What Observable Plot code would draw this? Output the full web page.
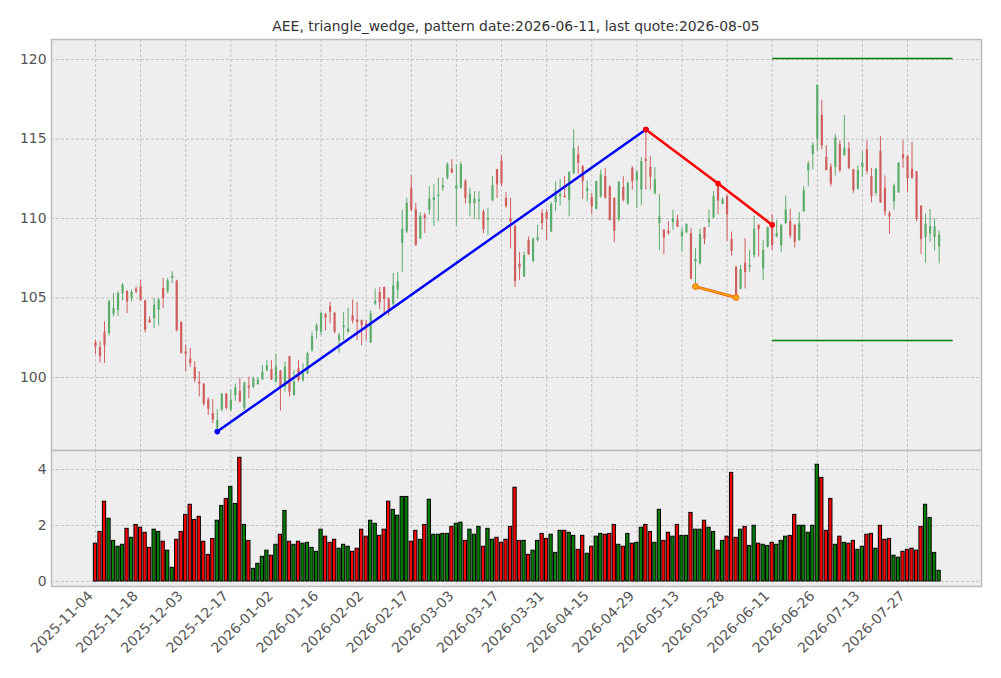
<!DOCTYPE html>
<html>
<head>
<meta charset="utf-8">
<script src="https://cdn.jsdelivr.net/npm/d3@7"></script>
<script src="https://cdn.jsdelivr.net/npm/@observablehq/plot@0.6"></script>
<style>
  html, body { margin: 0; padding: 0; background: #fff; }
  #wrap { position: relative; width: 1001px; height: 678px; overflow: hidden; font-family: "DejaVu Sans", sans-serif; }
  #title { position: absolute; left: 51px; width: 930px; top: 18px; text-align: center; font-size: 13.9px; color: #333; line-height: 16px; }
  #p1 { position: absolute; left: 0; top: 0; }
  #p2 { position: absolute; left: 0; top: 449px; }
</style>
</head>
<body>
<div id="wrap">
  <div id="title">AEE, triangle_wedge, pattern date:2026-06-11, last quote:2026-08-05</div>
  <div id="p1"></div>
  <div id="p2"></div>
</div>
<script>
// ---- data (one entry per trading day, index 0 = 2025-11-04, last = 2026-08-05) ----
const openP = [102.18,101.89,102.85,102.77,103.98,104.23,105.28,105.43,104.97,105.56,
105.70,104.82,103.61,103.71,104.23,105.60,105.39,106.23,106.06,103.46,
101.61,101.15,100.61,99.70,99.58,98.60,97.74,96.80,97.95,98.95,
97.95,98.85,99.12,98.03,99.46,99.39,99.56,99.85,100.44,100.50,
99.71,100.40,99.39,101.32,98.87,100.54,99.81,100.23,101.69,102.91,
102.85,103.95,104.46,104.04,102.32,103.12,102.85,103.89,103.62,103.58,
103.37,102.18,104.62,105.34,105.66,104.92,104.60,105.49,108.45,109.15,
111.91,110.57,108.73,110.21,110.53,111.12,111.38,111.91,112.54,113.11,
111.84,111.91,112.33,110.91,110.95,111.06,110.42,109.90,111.12,113.07,
113.60,111.27,110.00,109.51,107.14,106.33,108.63,107.30,108.63,110.32,
110.38,109.16,111.01,111.37,111.41,111.16,112.85,114.01,113.27,111.69,
111.31,110.59,111.37,112.64,112.00,111.27,109.90,111.94,110.90,113.16,
112.40,111.79,113.73,113.21,111.58,109.68,109.26,109.20,109.75,109.89,
108.84,109.11,109.05,107.25,107.15,109.41,109.75,110.04,112.15,110.89,
111.37,108.69,106.93,105.56,107.19,106.93,107.67,109.58,106.83,108.20,
109.68,108.84,108.30,109.68,109.83,109.58,108.63,110.42,113.00,114.02,
115.00,116.48,113.86,113.23,113.23,114.64,113.95,114.37,113.06,111.84,
113.23,114.32,112.64,111.58,114.22,111.90,110.30,111.05,111.62,114.01,
113.90,113.10,112.95,110.78,108.80,109.01,108.80,108.21];
const highP = [102.35,102.25,103.50,104.86,105.28,105.39,105.91,105.43,105.49,105.70,
106.12,104.86,103.82,104.97,104.97,106.23,106.23,106.65,106.12,103.50,
102.03,101.82,100.99,100.36,99.62,98.74,98.62,97.99,98.99,98.99,
99.20,99.60,99.96,99.71,100.02,100.02,100.02,100.75,101.07,101.07,
101.49,100.44,100.96,101.35,100.44,101.07,100.86,101.59,102.85,103.37,
104.10,104.04,104.73,104.10,102.78,104.10,104.37,104.87,104.73,103.62,
103.58,104.20,105.56,105.66,105.70,105.02,106.55,106.61,110.53,111.27,
112.69,110.95,110.36,110.32,112.01,112.12,112.54,112.54,113.50,113.71,
113.39,113.54,112.44,111.91,111.69,111.69,110.53,110.64,112.65,113.10,
113.96,111.63,111.27,109.58,107.88,107.88,108.84,108.78,109.58,110.57,
110.53,111.01,112.32,112.47,112.64,112.95,115.59,114.54,113.33,112.36,
111.58,112.36,113.06,113.16,112.05,111.30,112.32,112.64,112.32,113.27,
113.00,113.84,115.60,113.90,113.21,111.52,109.30,109.79,110.53,110.21,
109.41,109.68,109.37,108.10,109.32,109.45,110.53,111.69,112.22,111.31,
111.48,109.15,107.00,107.04,108.73,108.00,110.15,109.60,108.63,109.47,
110.25,109.89,109.60,111.42,110.59,109.60,110.38,112.01,113.59,114.76,
118.40,117.43,114.58,113.44,115.27,114.89,116.48,114.79,113.10,113.31,
114.22,114.89,113.16,113.16,115.17,112.68,110.46,112.17,113.52,114.92,
113.95,114.79,112.95,110.78,110.27,110.57,110.00,109.22];
const lowP = [101.45,100.92,100.88,102.60,103.82,103.82,104.82,104.03,104.76,105.28,
104.80,102.81,103.40,103.08,103.23,104.34,105.28,105.91,102.87,101.47,
100.36,100.63,99.66,98.78,98.20,97.63,97.11,96.60,97.84,97.95,
97.84,98.50,98.41,97.93,98.66,99.29,99.50,99.81,100.33,99.81,
99.65,97.89,99.08,98.77,98.82,99.71,99.71,100.18,101.59,102.43,
102.64,102.95,103.37,102.74,101.53,102.32,102.78,103.37,102.32,101.99,
102.32,102.15,104.52,104.28,103.92,103.86,104.39,104.92,106.61,109.05,
110.42,108.24,108.67,109.05,110.21,109.51,109.79,111.69,112.44,112.82,
109.51,111.84,110.91,110.11,109.94,109.89,109.05,108.94,111.06,111.27,
112.01,110.64,108.09,105.66,106.12,106.29,107.68,107.22,108.52,109.26,
108.63,109.11,110.42,110.80,111.27,110.11,112.74,112.78,111.20,111.05,
110.25,110.53,111.27,111.22,109.83,108.48,109.80,111.05,110.84,111.79,
110.63,110.80,111.79,111.79,111.48,108.00,107.72,108.95,109.26,109.41,
107.89,109.05,106.15,105.73,107.08,108.35,109.41,110.00,110.25,110.85,
108.56,107.63,105.03,105.52,105.56,106.62,107.51,107.57,106.09,108.14,
107.99,108.80,107.89,109.62,108.73,108.14,108.56,110.38,112.01,113.07,
114.22,114.32,113.00,112.00,112.68,112.89,113.90,113.06,111.58,111.79,
112.59,112.74,110.99,111.41,110.95,110.15,109.01,110.53,111.58,113.16,
111.62,112.47,109.79,107.74,107.19,108.52,107.95,107.15];
const closeP = [101.93,101.30,101.99,104.76,104.34,105.28,105.81,104.76,105.35,105.39,
104.86,102.98,103.44,104.55,104.86,104.97,106.08,106.37,102.94,101.51,
101.47,100.88,99.87,99.60,98.32,98.00,97.32,97.30,98.95,98.05,
98.57,99.35,98.45,99.64,99.35,99.92,99.85,100.33,100.75,99.85,
100.65,99.39,100.65,99.08,99.71,99.81,100.23,101.49,102.57,103.26,
104.04,103.74,104.10,102.85,102.64,103.26,103.05,103.54,103.47,103.26,
103.12,104.00,104.79,104.70,104.92,104.28,105.76,106.02,109.32,110.95,
110.53,108.31,110.15,110.00,111.21,111.31,111.48,112.06,113.39,112.86,
112.06,113.39,111.27,111.53,111.23,111.17,109.30,110.00,112.06,112.12,
112.18,110.74,109.79,106.04,106.89,107.67,107.72,108.69,108.78,109.68,
109.96,110.89,111.73,111.52,111.31,112.89,114.39,113.48,112.32,111.90,
110.74,112.32,112.74,111.27,109.89,109.20,112.28,111.16,112.20,112.32,
112.90,113.59,113.59,112.60,112.43,110.11,108.78,109.05,110.00,109.47,
109.15,109.62,106.19,107.42,108.99,108.69,109.89,111.37,111.10,111.16,
110.25,107.93,105.14,106.79,106.60,107.04,109.32,109.30,107.99,109.41,
108.30,109.05,109.58,110.53,108.90,108.50,109.68,111.73,113.42,114.61,
118.38,114.58,113.02,112.17,115.06,113.02,114.43,113.16,111.75,113.02,
113.48,112.95,111.37,113.10,110.99,110.42,110.10,112.05,113.48,113.76,
112.50,112.53,109.94,108.67,109.64,109.51,109.47,108.95];
const volume = [1.35,1.77,2.85,2.24,1.45,1.24,1.31,1.88,1.56,2.02,
1.92,1.74,1.20,1.85,1.77,1.42,1.10,0.49,1.49,1.77,
2.38,2.74,2.20,2.31,1.42,0.95,1.52,2.17,2.70,2.95,
3.38,2.77,4.42,2.02,1.45,0.45,0.63,0.88,1.10,0.92,
1.31,1.67,2.52,1.42,1.31,1.42,1.35,1.38,1.20,1.06,
1.85,1.60,1.38,1.49,1.17,1.31,1.24,1.06,1.17,1.85,
1.60,2.17,2.06,1.63,1.85,2.85,2.56,2.35,3.02,3.02,
1.42,1.81,1.49,2.02,2.92,1.67,1.67,1.70,1.70,1.95,
2.06,2.10,1.45,1.85,1.67,1.95,1.24,1.88,1.49,1.56,
1.38,1.49,1.95,3.35,1.45,1.45,0.95,1.10,1.45,1.70,
1.52,1.67,1.02,1.81,1.81,1.74,1.63,1.13,1.63,0.99,
1.24,1.60,1.70,1.67,1.70,2.02,1.31,1.24,1.70,1.35,
1.38,1.92,2.02,1.77,1.38,2.56,1.45,1.74,1.60,2.02,
1.63,1.63,2.45,1.85,1.85,2.17,1.92,1.77,1.10,1.45,
1.60,3.88,1.56,1.85,1.95,1.27,1.99,1.35,1.31,1.27,
1.38,1.31,1.45,1.60,1.63,2.38,1.99,1.99,1.74,1.99,
4.17,3.70,1.81,2.95,1.31,1.60,1.38,1.35,1.45,1.13,
1.24,1.67,1.70,1.17,1.99,1.49,1.52,0.92,0.85,1.06,
1.13,1.17,1.10,1.95,2.74,2.27,1.02,0.38];
const tickIndex = [0,10,20,30,40,50,60,70,80,90,100,110,120,130,140,150,160,170,180];
const tickLabels = ["2025-11-04","2025-11-18","2025-12-03","2025-12-17","2026-01-02","2026-01-16",
"2026-02-02","2026-02-17","2026-03-03","2026-03-17","2026-03-31","2026-04-15","2026-04-29",
"2026-05-13","2026-05-28","2026-06-11","2026-06-26","2026-07-13","2026-07-27"];
const priceTicks = [100,105,110,115,120];
const volumeTicks = [0,2,4];
// pattern lines: [bar index, price]
const upLine = [[27,96.6],[122,115.6]];
const downLine = [[122,115.6],[138,112.2],[150,109.6]];
const lowLine = [[133,105.72],[142,105.03]];
const levelLines = [[150,190,120.06],[150,190,102.33]];

// ---- build rows ----
const rows = openP.map((o, i) => ({i, open: o, high: highP[i], low: lowP[i], close: closeP[i], vol: volume[i], up: closeP[i] >= o}));
const candleUp = "#5cac6c", candleDown = "#d05e5e";
const gridStyle = {stroke: "#b8b8b8", strokeOpacity: 1, strokeWidth: 0.8, strokeDasharray: "3,2"};
const xDomain = [-9.75, 196.4];
const fs = 13.9;
const font = {fontFamily: "DejaVu Sans, sans-serif", fontSize: fs + "px", background: "transparent", overflow: "visible"};

const pts = a => a.map(([i, p]) => ({i, p}));

const p1 = Plot.plot({
  width: 1001, height: 451,
  marginLeft: 51, marginRight: 20, marginTop: 39, marginBottom: 1,
  style: font,
  x: {domain: xDomain, axis: null},
  y: {domain: [95.41, 121.26], label: null},
  marks: [
    Plot.frame({fill: "#eeeeee", stroke: null}),
    Plot.gridX(tickIndex, gridStyle),
    Plot.gridY(priceTicks, gridStyle),
    Plot.ruleX(rows, {x: "i", y1: "low", y2: "high", stroke: d => d.up ? candleUp : candleDown, strokeWidth: 1}),
    Plot.ruleX(rows, {x: "i", y1: "open", y2: "close", stroke: d => d.up ? candleUp : candleDown, strokeWidth: 2.2}),
    Plot.link(levelLines, {x1: d => d[0], x2: d => d[1], y1: d => d[2], y2: d => d[2], stroke: "#008000", strokeWidth: 1.5}),
    Plot.line(pts(upLine), {x: "i", y: "p", stroke: "#0000ff", strokeWidth: 2.5}),
    Plot.dot(pts(upLine), {x: "i", y: "p", fill: "#0000ff", r: 2.8}),
    Plot.line(pts(downLine), {x: "i", y: "p", stroke: "#ff0000", strokeWidth: 2.5}),
    Plot.dot(pts(downLine), {x: "i", y: "p", fill: "#ff0000", r: 2.8}),
    Plot.line(pts(lowLine), {x: "i", y: "p", stroke: "#e8641a", strokeWidth: 3}),
    Plot.line(pts(lowLine), {x: "i", y: "p", stroke: "#ffa500", strokeWidth: 1.4}),
    Plot.dot(pts(lowLine), {x: "i", y: "p", fill: "#ffa500", stroke: "#e8641a", strokeWidth: 0.8, r: 3}),
    Plot.axisY(priceTicks, {tickSize: 0, tickPadding: 5, fill: "#555", fontSize: fs, label: null}),
    Plot.frame({stroke: "#bcbcbc", strokeWidth: 1.5})
  ]
});
document.getElementById("p1").appendChild(p1);

const barHalf = 0.36;
const p2 = Plot.plot({
  width: 1001, height: 229,
  marginLeft: 51, marginRight: 20, marginTop: 1, marginBottom: 92,
  style: font,
  x: {domain: xDomain, label: null},
  y: {domain: [-0.18, 4.68], label: null},
  marks: [
    Plot.frame({fill: "#eeeeee", stroke: null}),
    Plot.gridX(tickIndex, gridStyle),
    Plot.gridY(volumeTicks, gridStyle),
    Plot.rect(rows, {x1: d => d.i - barHalf, x2: d => d.i + barHalf, y1: 0, y2: "vol", fill: d => d.up ? "#008000" : "#ff0000", stroke: "#000", strokeWidth: 1}),
    Plot.axisY(volumeTicks, {tickSize: 0, tickPadding: 5, fill: "#555", fontSize: fs, label: null}),
    Plot.axisX(tickIndex, {tickSize: 0, tickPadding: 7, tickRotate: -45, fill: "#555", fontSize: fs, dx: -5, label: null,
      tickFormat: i => tickLabels[tickIndex.indexOf(i)]}),
    Plot.frame({stroke: "#bcbcbc", strokeWidth: 1.5})
  ]
});
document.getElementById("p2").appendChild(p2);
</script>
</body>
</html>
